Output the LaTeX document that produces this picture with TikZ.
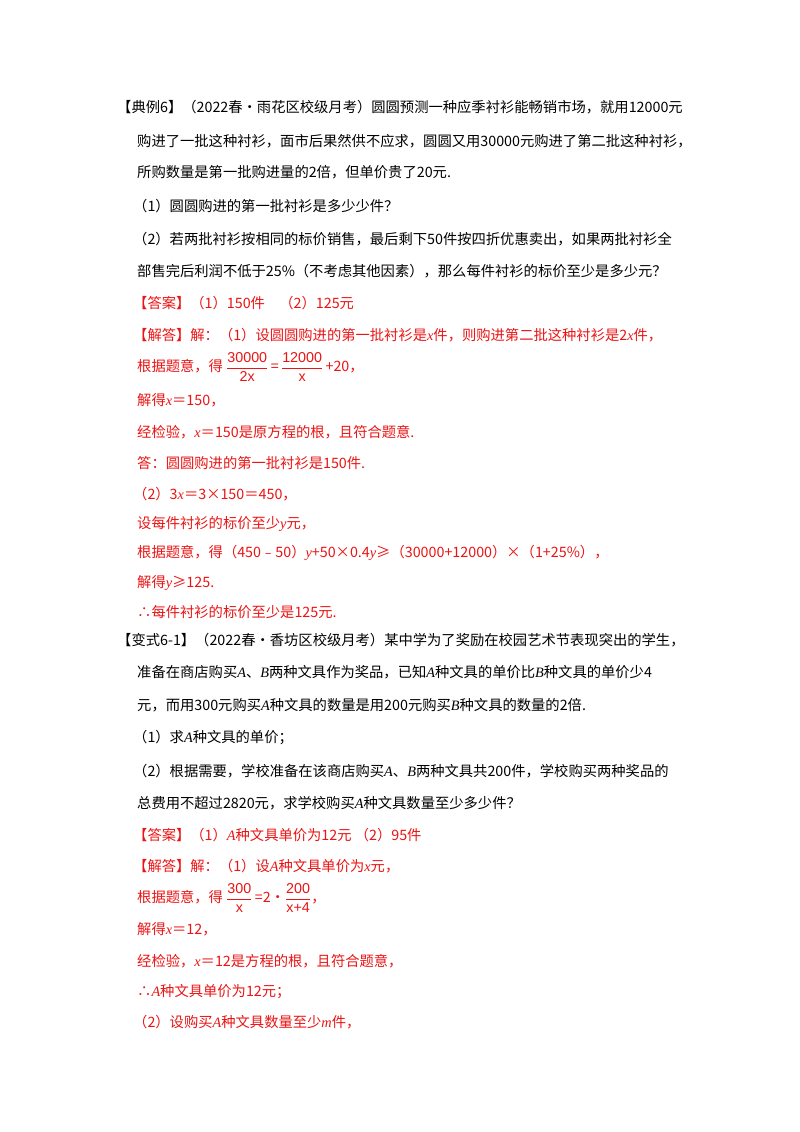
\documentclass[tikz,border=0pt]{standalone}
\usepackage{fontspec}
\setmainfont{Liberation Serif}
\newfontfamily\cjk{Noto Sans CJK SC}
\newcommand{\vi}[1]{{\fontspec{Liberation Serif}\itshape #1}}
\newcommand{\fr}[2]{\ensuremath{\dfrac{\hbox{\fontspec{Liberation Sans}#1}}{\hbox{\fontspec{Liberation Sans}#2}}}}
\usepackage{amsmath}
\definecolor{ansred}{RGB}{235,20,20}
\begin{document}
\begin{tikzpicture}[x=1pt,y=-1pt,
  ln/.style={anchor=west,inner sep=0pt,font=\cjk\fontsize{14.3}{16}\selectfont},
  rd/.style={ln,text=ansred}]
\useasboundingbox (0,0) rectangle (800,1132);
\fill[white] (0,0) rectangle (800,1132);
\node[ln] (l1) at (117,107) {【典例6】（2022春•雨花区校级月考）圆圆预测一种应季衬衫能畅销市场，就用12000元};
\node[ln] (l2) at (137,141) {购进了一批这种衬衫，面市后果然供不应求，圆圆又用30000元购进了第二批这种衬衫，};
\node[ln] (l3) at (137,172) {所购数量是第一批购进量的2倍，但单价贵了20元.};
\node[ln] (l4) at (133,206) {（1）圆圆购进的第一批衬衫是多少少件？};
\node[ln] (l5) at (133,239) {（2）若两批衬衫按相同的标价销售，最后剩下50件按四折优惠卖出，如果两批衬衫全};
\node[ln] (l6) at (137,271) {部售完后利润不低于25\%（不考虑其他因素），那么每件衬衫的标价至少是多少元？};
\node[rd] (l7) at (133,303) {【答案】（1）150件\quad（2）125元};
\node[rd] (l8) at (133,335) {【解答】解：（1）设圆圆购进的第一批衬衫是\vi{x}件，则购进第二批这种衬衫是2\vi{x}件，};
\node[rd] (l9) at (137,367) {根据题意，得\ \fr{30000}{2x}\,=\,\fr{12000}{x}\,+20，};
\node[rd] (l10) at (137,400) {解得\vi{x}＝150，};
\node[rd] (l11) at (137,432) {经检验，\vi{x}＝150是原方程的根，且符合题意.};
\node[rd] (l12) at (137,463) {答：圆圆购进的第一批衬衫是150件.};
\node[rd] (l13) at (133,494) {（2）3\vi{x}＝3×150＝450，};
\node[rd] (l14) at (137,524) {设每件衬衫的标价至少\vi{y}元，};
\node[rd] (l15) at (137,553) {根据题意，得（450﹣50）\vi{y}+50×0.4\vi{y}≥（30000+12000）×（1+25\%），};
\node[rd] (l16) at (137,583) {解得\vi{y}≥125.};
\node[rd] (l17) at (137,612) {∴每件衬衫的标价至少是125元.};
\node[ln] (l18) at (117,640) {【变式6-1】（2022春•香坊区校级月考）某中学为了奖励在校园艺术节表现突出的学生，};
\node[ln] (l19) at (137,672) {准备在商店购买\vi{A}、\vi{B}两种文具作为奖品，已知\vi{A}种文具的单价比\vi{B}种文具的单价少4};
\node[ln] (l20) at (137,705) {元，而用300元购买\vi{A}种文具的数量是用200元购买\vi{B}种文具的数量的2倍.};
\node[ln] (l21) at (133,738) {（1）求\vi{A}种文具的单价；};
\node[ln] (l22) at (133,771) {（2）根据需要，学校准备在该商店购买\vi{A}、\vi{B}两种文具共200件，学校购买两种奖品的};
\node[ln] (l23) at (137,803) {总费用不超过2820元，求学校购买\vi{A}种文具数量至少多少件？};
\node[rd] (l24) at (133,835) {【答案】（1）\vi{A}种文具单价为12元\ （2）95件};
\node[rd] (l25) at (133,866) {【解答】解：（1）设\vi{A}种文具单价为\vi{x}元，};
\node[rd] (l26) at (137,898) {根据题意，得\ \fr{300}{x}\,=2•\fr{200}{x+4}，};
\node[rd] (l27) at (137,929) {解得\vi{x}＝12，};
\node[rd] (l28) at (137,961) {经检验，\vi{x}＝12是方程的根，且符合题意，};
\node[rd] (l29) at (137,992) {∴\vi{A}种文具单价为12元；};
\node[rd] (l30) at (133,1022) {（2）设购买\vi{A}种文具数量至少\vi{m}件，};
\end{tikzpicture}
\end{document}
